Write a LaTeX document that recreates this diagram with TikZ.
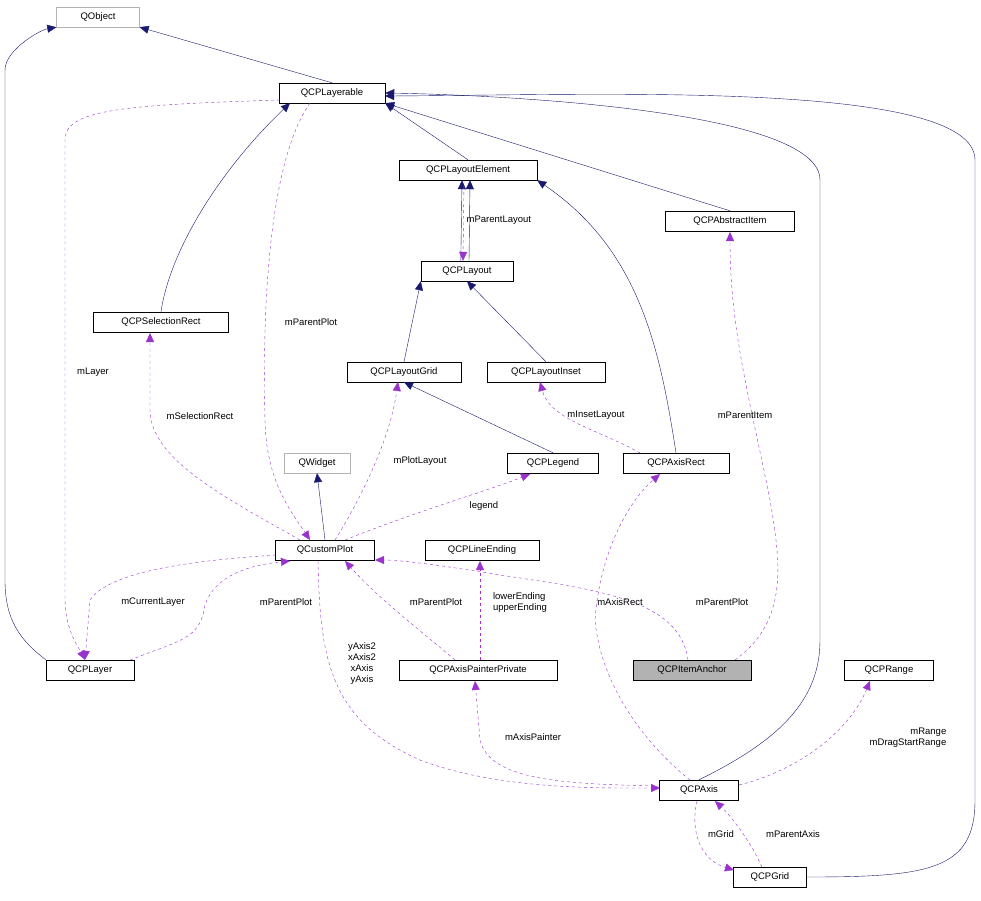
\documentclass[tikz,border=0pt]{standalone}
\usepackage{fontspec}
\setmainfont{Liberation Sans}
\usetikzlibrary{arrows.meta}
\begin{document}
\definecolor{navy}{HTML}{191970}
\definecolor{purp}{HTML}{9A32CD}
\begin{tikzpicture}[x=1pt,y=-1pt,font=\fontsize{9.5}{11}\selectfont,
 box/.style={draw=black,fill=white,inner sep=0pt,minimum height=20pt,text width=#1,align=center},
 gbox/.style={box=#1,draw=gray!60},
 inh/.style={navy,-{Triangle[length=9pt,width=8pt]}},
 use/.style={purp,dashed,-{Triangle[length=9pt,width=8pt]}},
 lab/.style={align=left,inner sep=1pt,text=black}]
\useasboundingbox (0,0) rectangle (981,900);
\node[gbox=83pt] (qobj) at (98,17) {QObject};
\node[box=106pt] (lay) at (332,93) {QCPLayerable};
\node[box=138pt] (le) at (468,170) {QCPLayoutElement};
\node[box=129pt] (ai) at (730,221) {QCPAbstractItem};
\node[box=92pt] (lo) at (467,271) {QCPLayout};
\node[box=135pt] (sr) at (161,322) {QCPSelectionRect};
\node[box=114pt] (lg) at (404,372) {QCPLayoutGrid};
\node[box=118pt] (li) at (546,372) {QCPLayoutInset};
\node[gbox=66pt] (qw) at (317,463) {QWidget};
\node[box=91pt] (leg) at (553,463) {QCPLegend};
\node[box=106pt] (ar) at (676,463) {QCPAxisRect};
\node[box=99pt] (cp) at (325,550) {QCustomPlot};
\node[box=114pt] (lend) at (482,550) {QCPLineEnding};
\node[box=88pt] (layer) at (90,670) {QCPLayer};
\node[box=158pt] (app) at (478,670) {QCPAxisPainterPrivate};
\node[box=118pt,fill=gray!60] (ia) at (692,670) {QCPItemAnchor};
\node[box=89pt] (rng) at (889,670) {QCPRange};
\node[box=79pt] (ax) at (699,790) {QCPAxis};
\node[box=73pt] (grid) at (770,877) {QCPGrid};
% inheritance
\draw[inh] (lay.north) -- (qobj.south east);
\draw[inh] (layer.north west) .. controls (20,640) and (5,620) .. (5,580) -- (5,70) .. controls (5,50) and (40,30) .. (qobj.south west);
\draw[inh] (le.north) -- (lay.south east);
\draw[inh] (ai.north) -- (lay.south east);
\draw[inh] (sr.north) .. controls (170,250) and (220,170) .. (290,103);
\draw[inh] (lo.north west) ++(40,0) -- ([xshift=-6pt]le.south);
\draw[inh] ([xshift=2pt]lo.north) -- ([xshift=2pt]le.south);
\draw[inh] (lg.north) -- (lo.south west);
\draw[inh] (li.north) -- (lo.south);
\draw[inh] (leg.north) -- (lg.south);
\draw[inh] (ar.north) .. controls (660,350) and (640,250) .. (le.south east);
\draw[inh] (cp.north) -- (qw.south);
\draw[inh] (ax.north) .. controls (780,740) and (820,700) .. (820,640) -- (820,180) .. controls (820,110) and (500,95) .. (lay.east);
\draw[inh] (grid.east) .. controls (930,877) and (975,870) .. (975,800) -- (975,160) .. controls (975,80) and (600,95) .. (385,96);
% usage
\draw[use] ([xshift=-4pt]le.south) -- ([xshift=-4pt]lo.north) node[lab,pos=0.5,right=2pt] {mParentLayout};
\draw[use] (280,100) .. controls (120,105) and (65,110) .. (65,140) -- (65,600) .. controls (65,630) and (80,650) .. ([xshift=-5pt]layer.north);
\node[lab] at (93,372) {mLayer};
\draw[use] (310,103) .. controls (270,160) and (262,300) .. (265,420) .. controls (266,480) and (290,510) .. (310,540);
\node[lab] at (311,322) {mParentPlot};
\draw[use] (300,540) .. controls (230,500) and (150,460) .. (150,410) -- (150,333);
\node[lab] at (200,416) {mSelectionRect};
\draw[use] (335,540) .. controls (360,500) and (390,440) .. (398,382);
\node[lab] at (420,461) {mPlotLayout};
\draw[use] (345,540) .. controls (420,510) and (490,490) .. (530,474);
\node[lab] at (484,506) {legend};
\draw[use] (640,453) .. controls (600,430) and (550,420) .. (540,382);
\node[lab] at (596,415) {mInsetLayout};
\draw[use] (735,660) .. controls (790,620) and (780,560) .. (770,500) .. controls (750,400) and (730,330) .. (730,232);
\node[lab] at (745,415) {mParentItem};
\draw[use] (688,660) .. controls (680,600) and (600,590) .. (500,575) .. controls (440,565) and (400,560) .. (375,560);
\node[lab] at (722,602) {mParentPlot};
\draw[use] (276,555) .. controls (200,560) and (110,570) .. (90,600) -- ([xshift=-5pt]layer.north);
\node[lab] at (153,602) {mCurrentLayer};
\draw[use] (130,660) .. controls (180,640) and (200,640) .. (205,605) .. controls (215,575) and (250,565) .. (290,561);
\node[lab] at (286,602) {mParentPlot};
\draw[use] (455,660) .. controls (420,630) and (380,600) .. (345,561);
\node[lab] at (436,602) {mParentPlot};
\draw[use] (480,660) -- (480,561);
\node[lab] at (520,603) {lowerEnding\\upperEnding};
\draw[use] (318,561) .. controls (320,660) and (330,720) .. (420,760) .. controls (500,790) and (600,788) .. (660,788);
\node[lab,align=center] at (362,664) {yAxis2\\xAxis2\\xAxis\\yAxis};
\draw[use] (660,786) .. controls (560,784) and (490,780) .. (480,740) -- (475,681);
\node[lab] at (533,737) {mAxisPainter};
\draw[use] (690,780) .. controls (640,740) and (600,680) .. (595,620) .. controls (600,550) and (630,500) .. (660,474);
\node[lab] at (620,602) {mAxisRect};
\draw[use] (739,785) .. controls (800,770) and (850,730) .. (870,681);
\node[lab,align=right] at (908,738) {mRange\\mDragStartRange};
\draw[use] (697,801) .. controls (690,830) and (700,860) .. (734,870);
\node[lab] at (721,834) {mGrid};
\draw[use] (762,867) .. controls (750,840) and (730,815) .. (715,801);
\node[lab] at (793,834) {mParentAxis};
\end{tikzpicture}
\end{document}
